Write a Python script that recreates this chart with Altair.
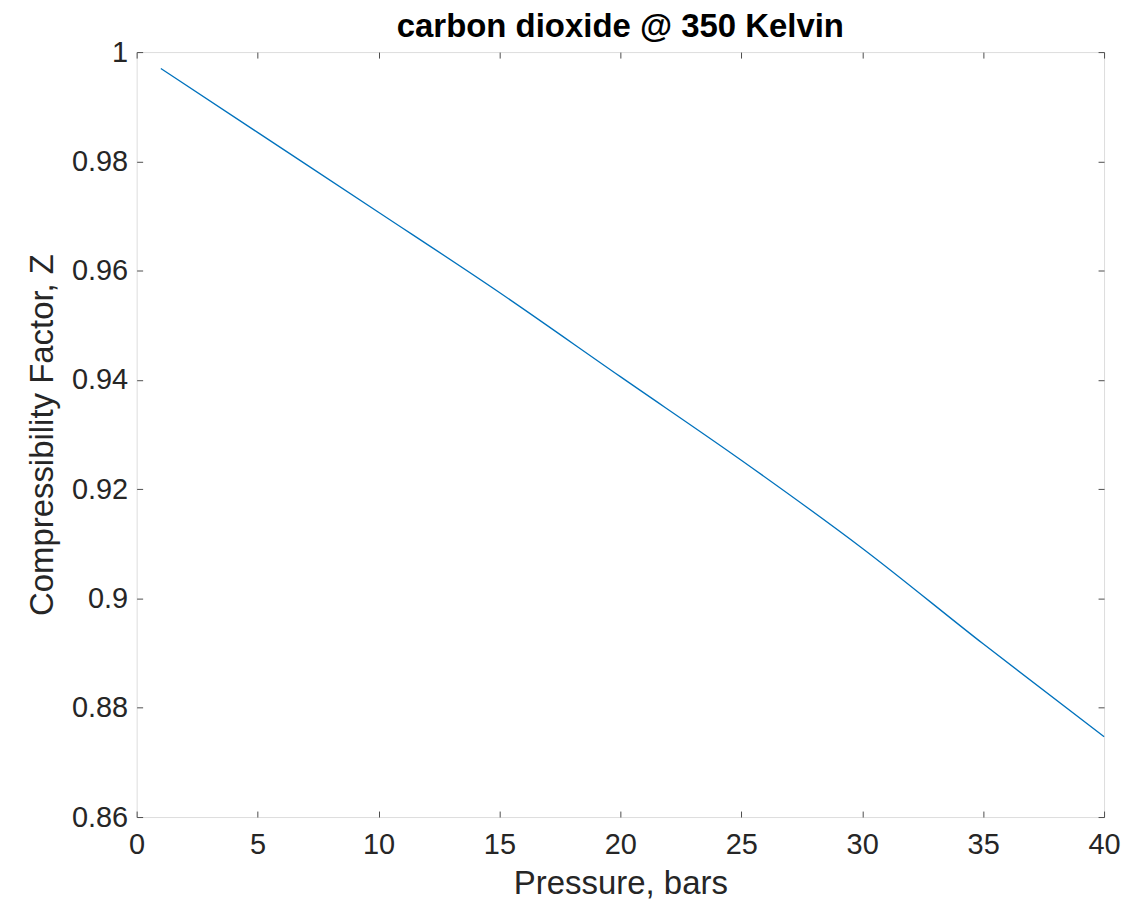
import altair as alt
import pandas as pd

pressure = [1, 5, 10, 15, 20, 25, 30, 35, 40]
z_factor = [0.9970, 0.9853, 0.9707, 0.9560, 0.9406, 0.9253, 0.9092, 0.8917, 0.8747]

x_ticks = [0, 5, 10, 15, 20, 25, 30, 35, 40]
y_ticks = [0.86, 0.88, 0.90, 0.92, 0.94, 0.96, 0.98, 1.0]

df = pd.DataFrame({"P": pressure, "Z": z_factor})

FONT = "Liberation Sans"
TXT = "#262626"
AX = "#4d4d4d"
TS = 6

xs = alt.Scale(domain=[0, 40], nice=False, zero=False)
ys = alt.Scale(domain=[0.86, 1.0], nice=False, zero=False)

common_axis = dict(
    grid=False, domain=False, tickSize=TS, offset=-TS, tickColor=AX,
    labelFont=FONT, labelFontSize=29, labelColor=TXT, labelFlush=False,
    titleFont=FONT, titleFontSize=33, titleColor=TXT, titleFontWeight="normal",
)

main = alt.Chart(df).mark_line(color="#0072BD", strokeWidth=1.3, interpolate="monotone").encode(
    x=alt.X("P:Q", scale=xs,
            axis=alt.Axis(orient="bottom", values=x_ticks, title="Pressure, bars",
                          labelPadding=14, titlePadding=8, format="d", **common_axis)),
    y=alt.Y("Z:Q", scale=ys,
            axis=alt.Axis(orient="left", values=y_ticks, title="Compressibility Factor, Z",
                          labelPadding=9, titlePadding=12, format=".2~f", **common_axis)),
)

box_axis = dict(grid=False, domain=False, tickSize=TS, offset=-TS, tickColor=AX,
                labels=False, title=None)

frame = alt.Chart(df).mark_line(opacity=0).encode(
    x=alt.X("P:Q", scale=xs, axis=alt.Axis(orient="top", values=x_ticks, **box_axis)),
    y=alt.Y("Z:Q", scale=ys, axis=alt.Axis(orient="right", values=y_ticks, **box_axis)),
)

chart = alt.layer(main, frame).resolve_axis(x="independent", y="independent").properties(
    width=970,
    height=767,
    title=alt.Title("carbon dioxide @ 350 Kelvin", font=FONT, fontSize=33,
                    fontWeight="bold", color="#000000", offset=-6, anchor="middle"),
    autosize=alt.AutoSizeParams(type="none"),
    padding={"left": 129, "top": 43, "right": 20, "bottom": 90},
).configure_view(stroke=AX, strokeWidth=1).configure(background="white")

chart.save("out.html", embed_options={"renderer": "svg", "actions": False})
